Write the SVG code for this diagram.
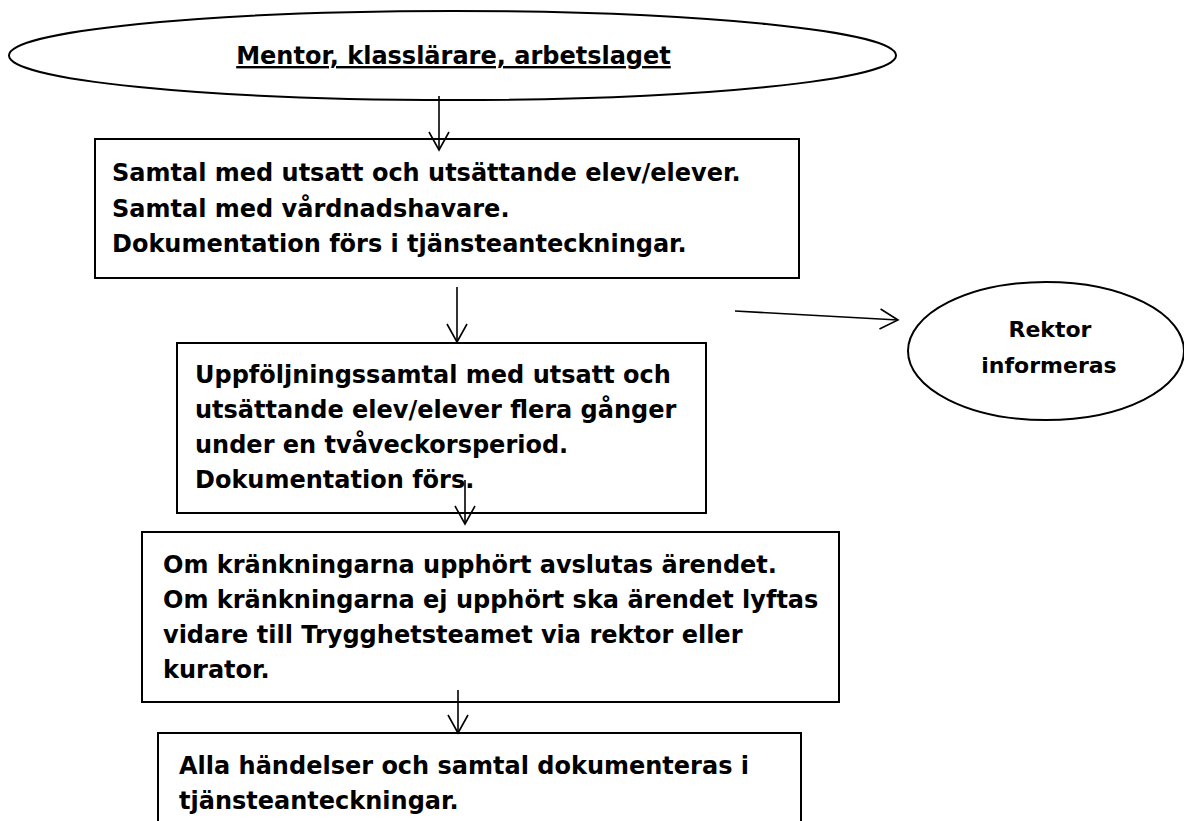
<svg xmlns="http://www.w3.org/2000/svg" width="1184" height="821" viewBox="0 0 1184 821">
<style>
  .shape { fill: #ffffff; stroke: #000000; stroke-width: 2; }
  .txt { font-family: "DejaVu Sans", "Liberation Sans", sans-serif; font-weight: bold; font-size: 24px; fill: #000000; }
  .small { font-size: 22px; }
  .conn { stroke: #000000; stroke-width: 1.6; fill: none; }
</style>
<defs>
  <marker id="ah" markerUnits="userSpaceOnUse" viewBox="0 0 24 24" markerWidth="24" markerHeight="24" refX="20" refY="12" orient="auto">
    <path d="M2,2 L20,12 L2,22" fill="none" stroke="#000000" stroke-width="1.6"/>
  </marker>
</defs>
<rect width="1184" height="821" fill="#ffffff"/>

<g id="node-mentor">
  <ellipse class="shape" cx="452.5" cy="55.5" rx="443.5" ry="44.5"/>
  <text class="txt" x="453.5" y="64" text-anchor="middle" text-decoration="underline">Mentor, klasslärare, arbetslaget</text>
</g>

<g id="node-samtal">
  <rect class="shape" x="95" y="139" width="704" height="139"/>
  <text class="txt" x="112" y="181">Samtal med utsatt och utsättande elev/elever.</text>
  <text class="txt" x="112" y="217">Samtal med vårdnadshavare.</text>
  <text class="txt" x="112" y="252">Dokumentation förs i tjänsteanteckningar.</text>
</g>

<g id="node-rektor">
  <ellipse class="shape" cx="1046" cy="351" rx="138" ry="69"/>
  <text class="txt small" x="1050" y="337" text-anchor="middle">Rektor</text>
  <text class="txt small" x="1049" y="373" text-anchor="middle">informeras</text>
</g>

<g id="node-uppfoljning">
  <rect class="shape" x="177" y="343" width="529" height="170"/>
  <text class="txt" x="195" y="383">Uppföljningssamtal med utsatt och</text>
  <text class="txt" x="195" y="418">utsättande elev/elever flera gånger</text>
  <text class="txt" x="195" y="453">under en tvåveckorsperiod.</text>
  <text class="txt" x="195" y="488">Dokumentation förs.</text>
</g>

<g id="node-avslut">
  <rect class="shape" x="142" y="532" width="697" height="170"/>
  <text class="txt" x="163" y="573">Om kränkningarna upphört avslutas ärendet.</text>
  <text class="txt" x="163" y="608">Om kränkningarna ej upphört ska ärendet lyftas</text>
  <text class="txt" x="163" y="643">vidare till Trygghetsteamet via rektor eller</text>
  <text class="txt" x="163" y="678">kurator.</text>
</g>

<g id="node-dokumentation">
  <rect class="shape" x="158" y="733" width="643" height="120"/>
  <text class="txt" x="179" y="774">Alla händelser och samtal dokumenteras i</text>
  <text class="txt" x="179" y="809">tjänsteanteckningar.</text>
</g>

<g id="connectors">
  <line class="conn" x1="439" y1="96" x2="439" y2="150" marker-end="url(#ah)"/>
  <line class="conn" x1="457" y1="287" x2="457" y2="342" marker-end="url(#ah)"/>
  <line class="conn" x1="735" y1="311" x2="898" y2="320" marker-end="url(#ah)"/>
  <line class="conn" x1="465" y1="480" x2="465" y2="524" marker-end="url(#ah)"/>
  <line class="conn" x1="458" y1="690" x2="458" y2="733" marker-end="url(#ah)"/>
</g>
</svg>
